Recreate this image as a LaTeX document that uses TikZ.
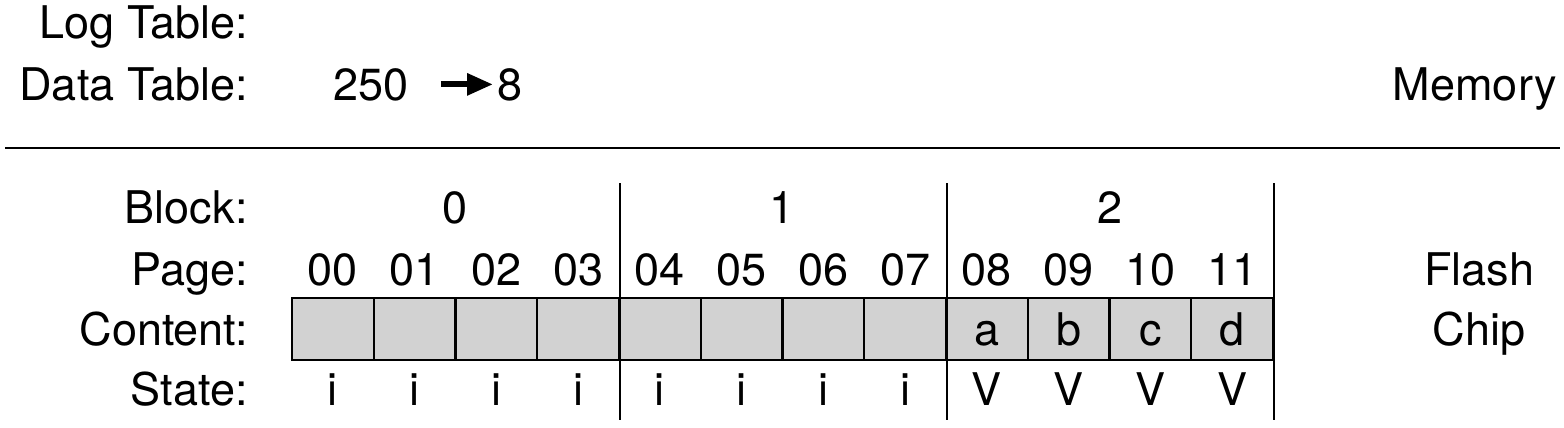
\documentclass[tikz,border=0pt]{standalone}
\usepackage{fontspec}
\setmainfont{TeX Gyre Heros}
\usetikzlibrary{arrows.meta}
\begin{document}
\begin{tikzpicture}[x=0.5pt,y=-0.5pt,
  every node/.style={font=\fontsize{22.5}{27}\selectfont, inner sep=0pt},
  rowlabel/.style={anchor=base east},
  txt/.style={anchor=base},
  cell/.style={draw, fill=gray!35, line width=1.2pt, minimum width=40.875pt, minimum height=31pt, text height=16pt, text depth=0pt},
  sep/.style={line width=1.1pt},
  rule/.style={line width=1pt}]
\useasboundingbox (0,0) rectangle (1564,428);
% memory part
\node[rowlabel] (logl) at (248,39) {Log Table:};
\node[rowlabel] (datal) at (248,100) {Data Table:};
\node[anchor=base west] (n250) at (333,100) {250};
\node[anchor=base west] (n8) at (497,100) {8};
\draw[line width=3pt, -{Triangle[length=13pt,width=10.5pt]}, shorten <=16pt, shorten >=2pt] (n250.east) -- (n8.west);
\node[anchor=base east] (mem) at (1557,100) {Memory};
% horizontal rule
\coordinate (hl) at (5,148);
\coordinate (hr) at (1560,148);
\draw[rule] (hl) -- (hr);
% row labels
\node[rowlabel] (blockl) at (248,223) {Block:};
\node[rowlabel] (pagel) at (248,285) {Page:};
\node[rowlabel] (contl) at (248,345) {Content:};
\node[rowlabel] (statel) at (248,405) {State:};
% cells
\foreach \i/\p/\c/\s in {0/00//i,1/01//i,2/02//i,3/03//i,4/04//i,5/05//i,6/06//i,7/07//i,8/08/a/V,9/09/b/V,10/10/c/V,11/11/d/V}{
  \node[cell] (c\i) at ({292+81.75*(\i+0.5)},329) {\c};
  \node[txt] (p\i) at ({292+81.75*(\i+0.5)},285) {\p};
  \node[txt] (s\i) at ({292+81.75*(\i+0.5)},405) {\s};
}
% blocks
\node[txt] (b0) at (455.5,223) {0};
\node[txt] (b1) at (782.5,223) {1};
\node[txt] (b2) at (1109.5,223) {2};
% separators
\draw[sep] (c3.east |- 0,183) -- (c3.east |- 0,420);
\draw[sep] (c7.east |- 0,183) -- (c7.east |- 0,420);
\draw[sep] (c11.east |- 0,183) -- (c11.east |- 0,420);
% flash chip
\node[txt] (flash) at (1479,285) {Flash};
\node[txt] (chip) at (1479,345) {Chip};
\end{tikzpicture}
\end{document}
